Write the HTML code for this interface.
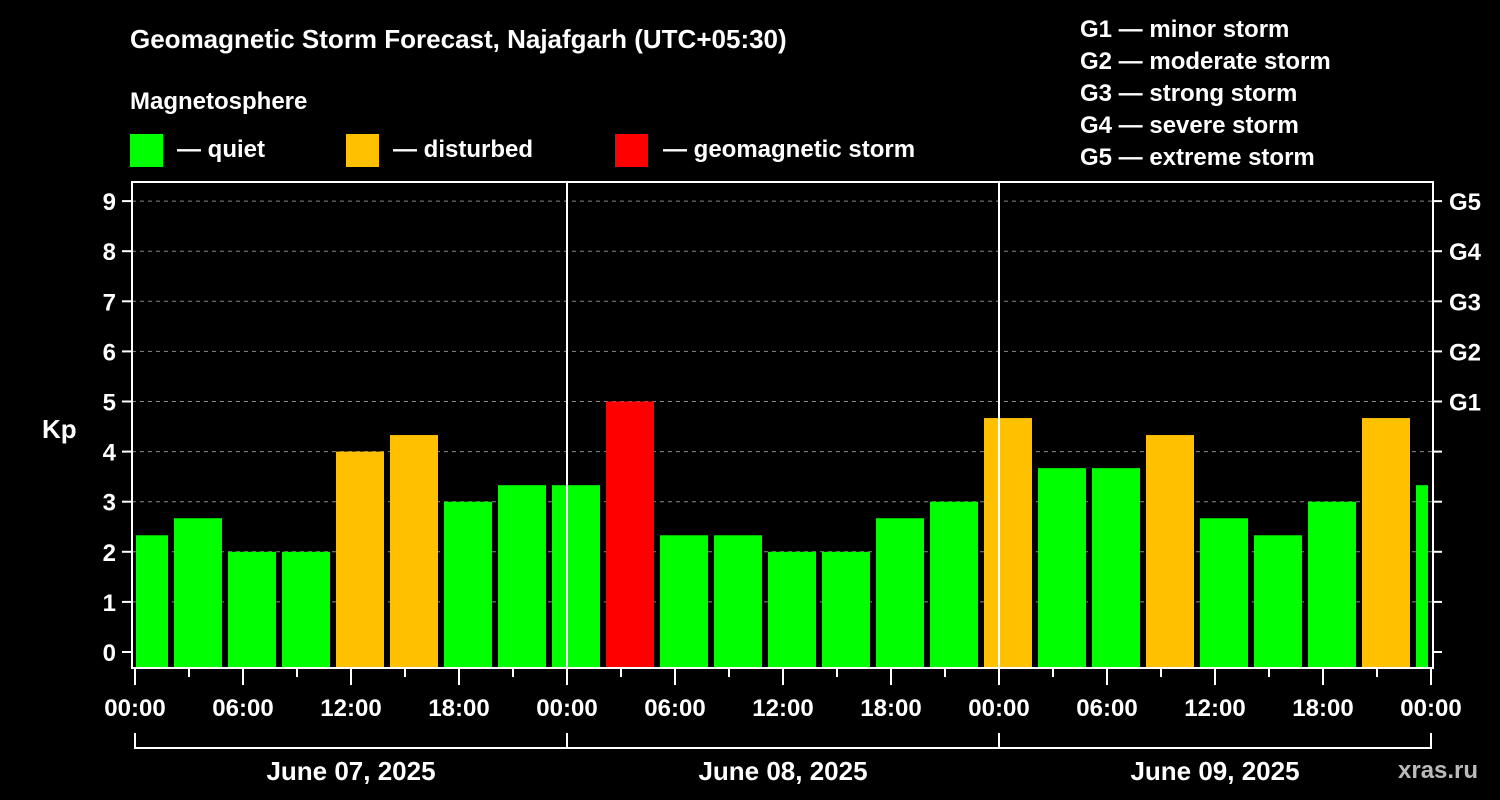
<!DOCTYPE html>
<html><head><meta charset="utf-8"><style>
html,body{margin:0;padding:0;background:#000;width:1500px;height:800px;overflow:hidden}
svg text{font-family:"Liberation Sans",Arial,sans-serif;font-weight:bold;fill:#fff}
</style></head><body>
<svg id="chart" width="1500" height="800" xmlns="http://www.w3.org/2000/svg">
<text x="130" y="48" font-size="26">Geomagnetic Storm Forecast, Najafgarh (UTC+05:30)</text>
<text x="130" y="109" font-size="24">Magnetosphere</text>
<g><rect x="130" y="134" width="33" height="33" fill="#00ff00"/><text x="177" y="157" font-size="24">— quiet</text></g>
<g><rect x="346" y="134" width="33" height="33" fill="#ffc000"/><text x="393" y="157" font-size="24">— disturbed</text></g>
<g><rect x="615" y="134" width="33" height="33" fill="#ff0000"/><text x="663" y="157" font-size="24">— geomagnetic storm</text></g>
<g font-size="24">
<text x="1080" y="37">G1 — minor storm</text>
<text x="1080" y="69">G2 — moderate storm</text>
<text x="1080" y="101">G3 — strong storm</text>
<text x="1080" y="133">G4 — severe storm</text>
<text x="1080" y="165">G5 — extreme storm</text>
</g>
<text x="42" y="438" font-size="26">Kp</text>
<text x="1398" y="778" font-size="24" fill="#bbb" style="fill:#bbb">xras.ru</text>
<g id="grid"></g><g id="bars"></g><g id="axes"></g>
</svg>
<script>
const kpValues=[2.33,2.67,2,2,4,4.33,3,3.33,3.33,5,2.33,2.33,2,2,2.67,3,4.67,3.67,3.67,4.33,2.67,2.33,3,4.67,3.33];
const yTicks=[0,1,2,3,4,5,6,7,8,9];
const gLabels=["G1","G2","G3","G4","G5"];
const xTickLabels=["00:00","06:00","12:00","18:00","00:00","06:00","12:00","18:00","00:00","06:00","12:00","18:00","00:00"];
const dateLabels=["June 07, 2025","June 08, 2025","June 09, 2025"];
const NS="http://www.w3.org/2000/svg";
const L=132,R=1433,T=182,B=668,X0=135,PXH=18;
const y=k=>652-50.1*k;
const x=h=>X0+PXH*h;
function mk(tag,at,parent,txt){const e=document.createElementNS(NS,tag);for(const k in at)e.setAttribute(k,at[k]);if(txt!==undefined)e.textContent=txt;document.getElementById(parent).appendChild(e);return e;}
yTicks.forEach(k=>{if(k>0){const g=mk('line',{x1:L,x2:R,y1:y(k),y2:y(k),stroke:'#888','stroke-dasharray':'4,4','stroke-width':1},'grid');

}});
kpValues.forEach((v,i)=>{const c=x(0.5+3*i);let x1=Math.max(c-24,L+4),x2=Math.min(c+24,R-5);
const col=v>=5?'#ff0000':(v>=4?'#ffc000':'#00ff00');
const b=mk('rect',{x:x1,y:y(v),width:x2-x1,height:B-y(v),fill:col},'bars');

});
[1,2].forEach(d=>{const l=mk('line',{x1:x(24*d),x2:x(24*d),y1:T,y2:B,stroke:'#fff','stroke-width':2},'axes');

});
const fr=mk('rect',{x:L,y:T,width:R-L,height:B-T,fill:'none',stroke:'#fff','stroke-width':2},'axes');


yTicks.forEach(k=>{mk('line',{x1:L-10,x2:L,y1:y(k),y2:y(k),stroke:'#fff','stroke-width':2},'axes');
mk('line',{x1:R,x2:R+9,y1:y(k),y2:y(k),stroke:'#fff','stroke-width':2},'axes');
const t=mk('text',{x:L-16,y:y(k)+9,'font-size':24,'text-anchor':'end'},'axes',String(k));

});
gLabels.forEach((g,i)=>{const t=mk('text',{x:1449,y:y(5+i)+9,'font-size':24},'axes',g);

});
for(let h=0;h<=72;h+=3){mk('line',{x1:x(h),x2:x(h),y1:B,y2:h%6===0?B+17:B+9,stroke:'#fff','stroke-width':2},'axes');}
xTickLabels.forEach((s,i)=>{const t=mk('text',{x:x(6*i),y:716,'font-size':24,'text-anchor':'middle'},'axes',s);

});
mk('line',{x1:x(0),x2:x(72),y1:748,y2:748,stroke:'#fff','stroke-width':2},'axes');
for(let d=0;d<=3;d++)mk('line',{x1:x(24*d),x2:x(24*d),y1:733,y2:749,stroke:'#fff','stroke-width':2},'axes');
dateLabels.forEach((s,i)=>{const t=mk('text',{x:x(24*i+12),y:780,'font-size':26,'text-anchor':'middle'},'axes',s);

});
</script>
</body></html>
